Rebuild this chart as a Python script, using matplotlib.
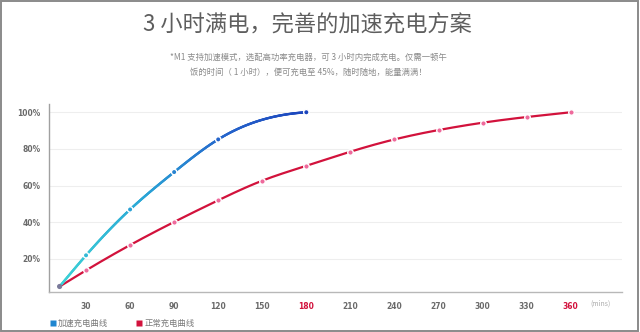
import numpy as np
import matplotlib.pyplot as plt
from matplotlib.collections import LineCollection
from matplotlib.colors import LinearSegmentedColormap
from matplotlib.lines import Line2D
from matplotlib.patches import Rectangle

plt.rcParams['font.family'] = ['Noto Sans CJK SC', 'DejaVu Sans']

# charge level (%) against time (mins)
fast_t = [12, 30, 60, 90, 120, 180]
fast_pct = [5, 22, 47, 67.4, 85.2, 100]
normal_t = [12, 30, 60, 90, 120, 150, 180, 210, 240, 270, 300, 330, 360]
normal_pct = [5, 13.8, 27.6, 40.2, 52, 62.7, 70.8, 78.5, 85.2, 90.3, 94.3, 97.4, 100]

x_ticks = [30, 60, 90, 120, 150, 180, 210, 240, 270, 300, 330, 360]
y_ticks = [20, 40, 60, 80, 100]
highlight = [180, 360]

title = '3 小时满电，完善的加速充电方案'
note = ('*M1 支持加速模式，选配高功率充电器，可 3 小时内完成充电。仅需一顿午\n'
        '饭的时间（ 1 小时），便可充电至 45%，随时随地，能量满满！')
legend_labels = ['加速充电曲线', '正常充电曲线']

RED = '#d2123c'
BLUE = '#1f86d0'
fast_cmap = LinearSegmentedColormap.from_list('fast', ['#3dd3d6', '#2aa7d6', '#2565cc', '#1c45bd'])


def smooth(x, y, end_slope=0.05, n=400):
    # cubic spline stroke: natural at the start, fixed slope at the end
    x = np.asarray(x, float)
    y = np.asarray(y, float)
    h = np.diff(x)
    d = np.diff(y) / h
    N = len(x)
    A = np.zeros((N, N))
    b = np.zeros(N)
    A[0, 0], A[0, 1], b[0] = 2, 1, 3 * d[0]
    for i in range(1, N - 1):
        A[i, i - 1] = h[i]
        A[i, i] = 2 * (h[i - 1] + h[i])
        A[i, i + 1] = h[i - 1]
        b[i] = 3 * (h[i] * d[i - 1] + h[i - 1] * d[i])
    A[-1, -1], b[-1] = 1, end_slope
    m = np.linalg.solve(A, b)
    xs = np.linspace(x[0], x[-1], n)
    k = np.clip(np.searchsorted(x, xs) - 1, 0, N - 2)
    t = (xs - x[k]) / h[k]
    h00 = 2 * t**3 - 3 * t**2 + 1
    h10 = t**3 - 2 * t**2 + t
    h01 = -2 * t**3 + 3 * t**2
    h11 = t**3 - t**2
    ys = h00 * y[k] + h10 * h[k] * m[k] + h01 * y[k + 1] + h11 * h[k] * m[k + 1]
    return xs, ys


fig = plt.figure(figsize=(6.4, 3.32), dpi=100)
ax = fig.add_axes([0.0766, 0.1205, 0.8954, 0.5662])
ax.set_xlim(4.8, 395)
ax.set_ylim(2, 104.5)

for v in y_ticks:
    ax.axhline(v, color='#eeeeee', lw=0.8, zorder=0)

# normal charging
xs, ys = smooth(normal_t, normal_pct, end_slope=0.09)
ax.plot(xs, ys, color=RED, lw=1.6, solid_capstyle='round', zorder=2)
ax.plot(normal_t[1:], normal_pct[1:], 'o', ms=4.0, mfc='#ee6a9c', mec='white',
        mew=1.0, zorder=3)

# fast charging, cyan to blue
xs, ys = smooth(fast_t, fast_pct, end_slope=0.05)
pts = np.column_stack([xs, ys]).reshape(-1, 1, 2)
segs = np.concatenate([pts[:-1], pts[1:]], axis=1)
norm = plt.Normalize(fast_t[0], fast_t[-1])
lc = LineCollection(segs, cmap=fast_cmap, norm=norm, lw=1.7, capstyle='round', zorder=4)
lc.set_array(xs[:-1])
ax.add_collection(lc)
ax.scatter(fast_t[1:], fast_pct[1:], s=15, c=[fast_cmap(norm(v) * 0.9 + 0.1) for v in fast_t[1:]],
           edgecolors='white', linewidths=1.0, zorder=5)
ax.scatter([fast_t[0]], [fast_pct[0]], s=14, c='#7a7a9a', edgecolors='none', zorder=6)

for s in ['top', 'right']:
    ax.spines[s].set_visible(False)
ax.spines['left'].set_color('#a0a0a0')
ax.spines['bottom'].set_color('#b8b8b8')
ax.spines['left'].set_linewidth(1.0)
ax.spines['bottom'].set_linewidth(1.0)

ax.set_yticks(y_ticks)
ax.set_yticklabels([f'{v}%' for v in y_ticks], fontfamily='DejaVu Sans', fontstretch='condensed',
                   fontweight='bold', fontsize=6, color='#6a6a6a')
ax.set_xticks(x_ticks)
ax.set_xticklabels([str(v) for v in x_ticks], fontfamily='DejaVu Sans', fontstretch='condensed',
                   fontweight='bold', fontsize=6, color='#6a6a6a')
for lab, v in zip(ax.get_xticklabels(), x_ticks):
    if v in highlight:
        lab.set_color(RED)
ax.tick_params(length=0, pad=7)
ax.tick_params(axis='y', pad=6)
fig.text(590 / 640, 1 - 304 / 332, '(mins)', fontsize=5, color='#aaaaaa', ha='left', va='center')

fig.text(0.48, 1 - 25 / 332, title, fontsize=16, color='#5e5e5e', ha='center', va='center')
fig.text(0.482, 1 - 64.5 / 332, note, fontsize=6, color='#8a8a8a', ha='center', va='center',
         linespacing=1.9)

handles = [Line2D([], [], ls='none', marker='s', ms=4, mfc=BLUE, mec='none'),
           Line2D([], [], ls='none', marker='s', ms=4, mfc=RED, mec='none')]
fig.legend(handles, legend_labels, loc='center left', bbox_to_anchor=(50 / 640, 1 - 323 / 332),
           ncol=2, frameon=False, fontsize=6, labelcolor='#7a7a7a', handlelength=0.6,
           handletextpad=0.35, columnspacing=3.4, borderaxespad=0, borderpad=0)

fig.patches.append(Rectangle((0.001, 0.002), 0.996, 0.995, transform=fig.transFigure,
                             fill=False, edgecolor='#8a8a8a', lw=1.4))

fig.savefig('out.png', dpi=100, facecolor='white')
